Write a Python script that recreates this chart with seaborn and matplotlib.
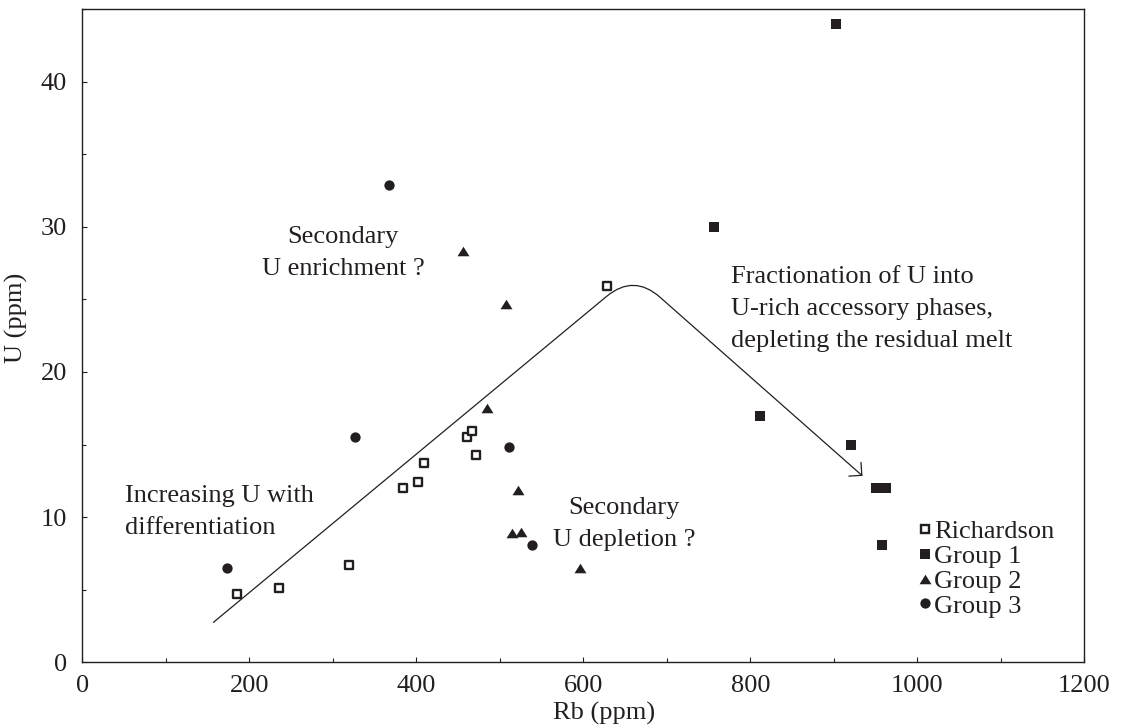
import numpy as np
import pandas as pd
import matplotlib
matplotlib.use("Agg")
import matplotlib.pyplot as plt
from matplotlib.path import Path
from matplotlib.patches import FancyArrowPatch
from matplotlib.lines import Line2D
from matplotlib.ticker import MultipleLocator
import seaborn as sns

# Rb and U concentrations (ppm)
richardson_rb = [185, 235, 319, 384, 402, 409, 461, 467, 471, 628]
richardson_u = [4.7, 5.1, 6.7, 12.0, 12.4, 13.7, 15.5, 15.9, 14.3, 25.9]

group1_rb = [903, 757, 811, 921, 951, 963, 958]
group1_u = [44.0, 30.0, 17.0, 15.0, 12.0, 12.0, 8.1]

group2_rb = [456, 507, 485, 522, 515, 525, 596]
group2_u = [28.3, 24.7, 17.5, 11.9, 8.9, 9.0, 6.5]

group3_rb = [367, 173, 326, 511, 539]
group3_u = [32.9, 6.5, 15.5, 14.8, 8.1]

group_names = ["Richardson", "Group 1", "Group 2", "Group 3"]

# Differentiation trend: rise, rounded peak, fall with arrow head
trend_rb = [157, 628, 660.4, 691.8, 934.3]
trend_u = [2.75, 25.21, 26.75, 25.15, 12.84]

INK = "#231f20"

sns.set_theme(style="white")
plt.rcParams["font.family"] = ["Liberation Serif", "DejaVu Serif"]
plt.rcParams["text.color"] = INK
plt.rcParams["axes.labelcolor"] = INK
plt.rcParams["xtick.color"] = INK
plt.rcParams["ytick.color"] = INK

frames = []
for name, rb, u in zip(group_names,
                       [richardson_rb, group1_rb, group2_rb, group3_rb],
                       [richardson_u, group1_u, group2_u, group3_u]):
    frames.append(pd.DataFrame({"Rb": rb, "U": u, "Group": name}))
df = pd.concat(frames, ignore_index=True)

fig = plt.figure(figsize=(11.21, 7.27), dpi=100)
ax = fig.add_axes([0.0734, 0.0890, 0.8939, 0.8986])

tri = [(-1, -0.8), (1, -0.8), (0, 0.8)]
styles = {
    "Richardson": dict(marker="s", s=28, facecolor="white", edgecolor=INK, linewidth=1.7),
    "Group 1": dict(marker="s", s=59, color=INK, edgecolor=INK, linewidth=0),
    "Group 2": dict(marker=tri, s=74, color=INK, edgecolor=INK, linewidth=0),
    "Group 3": dict(marker="o", s=55, color=INK, edgecolor=INK, linewidth=0),
}

for name in group_names:
    sub = df[df["Group"] == name]
    sns.scatterplot(data=sub, x="Rb", y="U", ax=ax, legend=False, zorder=3,
                    **styles[name])

# Trend curve with open arrow head
verts = np.column_stack([trend_rb, trend_u])
codes = [Path.MOVETO, Path.LINETO, Path.CURVE3, Path.CURVE3, Path.LINETO]
arrow = FancyArrowPatch(path=Path(verts, codes),
                        arrowstyle="->,head_length=0.4,head_width=0.4",
                        mutation_scale=16.5, lw=0.9, color=INK,
                        transform=ax.transData, zorder=2)
ax.add_patch(arrow)

fs = 19
ls = 1.58
ax.text(51, 10.36, "Increasing U with\ndifferentiation", ha="left", va="center",
        fontsize=fs, linespacing=ls)
ax.text(312.5, 28.2, "Secondary\nU enrichment ?", ha="center", va="center",
        fontsize=fs, linespacing=ls, multialignment="center")
ax.text(649, 9.55, "Secondary\nU depletion ?", ha="center", va="center",
        fontsize=fs, linespacing=ls, multialignment="center")
ax.text(776.3, 24.35,
        "Fractionation of U into\nU-rich accessory phases,\ndepleting the residual melt",
        ha="left", va="center", fontsize=fs, linespacing=ls)

ax.set_xlim(0, 1200)
ax.set_ylim(0, 45)
ax.xaxis.set_major_locator(MultipleLocator(200))
ax.xaxis.set_minor_locator(MultipleLocator(100))
ax.yaxis.set_major_locator(MultipleLocator(10))
ax.yaxis.set_minor_locator(MultipleLocator(5))
ax.tick_params(which="both", direction="in", width=0.8, labelsize=fs,
               bottom=True, left=True, top=False, right=False)
ax.tick_params(which="major", length=3.6)
ax.tick_params(which="minor", length=3.0)
ax.tick_params(axis="x", pad=9)
ax.tick_params(axis="y", pad=11)

for sp in ax.spines.values():
    sp.set_visible(True)
    sp.set_color(INK)
    sp.set_linewidth(1.0)

ax.set_xlabel("Rb (ppm)", fontsize=fs)
ax.set_ylabel("U (ppm)", fontsize=fs)
ax.xaxis.set_label_coords(0.5207, -0.0600)
ax.yaxis.set_label_coords(-0.054, 0.527)

handles = [
    Line2D([], [], linestyle="none", marker="s", markersize=5.3,
           markerfacecolor="white", markeredgecolor=INK, markeredgewidth=1.7),
    Line2D([], [], linestyle="none", marker="s", markersize=7.7,
           markerfacecolor=INK, markeredgewidth=0),
    Line2D([], [], linestyle="none", marker=tri, markersize=8.6,
           markerfacecolor=INK, markeredgewidth=0),
    Line2D([], [], linestyle="none", marker="o", markersize=7.4,
           markerfacecolor=INK, markeredgewidth=0),
]
ax.legend(handles, group_names, loc="upper left", bbox_to_anchor=(0.8345, 0.218),
          frameon=False, fontsize=fs, handlelength=0.5, handletextpad=0.08,
          labelspacing=0.05, borderpad=0, borderaxespad=0)

fig.savefig("out.png", dpi=100, facecolor="white")
